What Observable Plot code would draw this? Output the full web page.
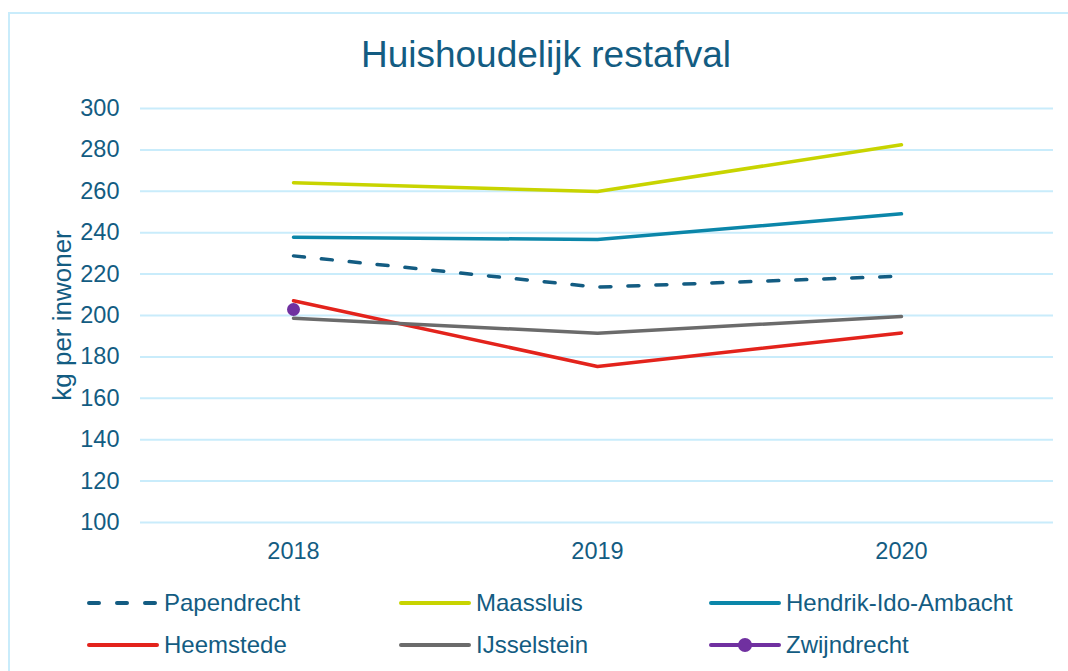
<!DOCTYPE html>
<html>
<head>
<meta charset="utf-8">
<script src="https://cdn.jsdelivr.net/npm/d3@7"></script>
<script src="https://cdn.jsdelivr.net/npm/@observablehq/plot@0.6"></script>
<style>
  html, body { margin: 0; padding: 0; background: #fff; }
  body { width: 1068px; height: 671px; overflow: hidden; position: relative; font-family: "Liberation Sans", Arial, sans-serif; color: #135c82; }
  #frame { position: absolute; left: 8px; top: 12px; width: 1100px; height: 700px; border-left: 2px solid #c9ecfb; border-top: 2px solid #c9ecfb; box-sizing: border-box; }
  #title { position: absolute; left: 0; top: 0; width: 1092px; height: 90px; text-align: center; font-size: 37px; line-height: 110px; color: #135c82; }
  #chart { position: absolute; left: 0; top: 90px; }
  #legend { position: absolute; left: 0; top: 0; }
  .item { position: absolute; display: flex; align-items: center; font-size: 24px; color: #135c82; white-space: nowrap; }
  .item svg { margin-right: 5px; }
</style>
</head>
<body>
<div id="frame"></div>
<div id="title">Huishoudelijk restafval</div>
<div id="chart"></div>
<div id="legend"></div>
<script>
const years = ["2018", "2019", "2020"];
const series = ["Papendrecht", "Maassluis", "Hendrik-Ido-Ambacht", "Heemstede", "IJsselstein", "Zwijndrecht"];
const colors = ["#135c82", "#c8d400", "#0b86a9", "#e3231c", "#6b6b6b", "#7030a0"];
const papendrecht = [228.8, 213.7, 219.0];
const maassluis = [264.1, 259.9, 282.5];
const hendrikIdoAmbacht = [237.8, 236.7, 249.1];
const heemstede = [207.1, 175.4, 191.6];
const ijsselstein = [198.7, 191.4, 199.5];
const zwijndrecht = [202.9, null, null];
const yTicks = [100, 120, 140, 160, 180, 200, 220, 240, 260, 280, 300];

const valuesBySeries = [papendrecht, maassluis, hendrikIdoAmbacht, heemstede, ijsselstein, zwijndrecht];
const data = [];
series.forEach((s, i) => {
  years.forEach((y, j) => {
    const v = valuesBySeries[i][j];
    if (v != null) data.push({series: s, year: y, value: v});
  });
});
const solidSeries = ["Maassluis", "Hendrik-Ido-Ambacht", "Heemstede", "IJsselstein"];

const chart = Plot.plot({
  width: 1068,
  height: 470,
  marginLeft: 140,
  marginRight: 15,
  marginTop: 18,
  marginBottom: 38,
  style: {fontFamily: "Liberation Sans, Arial, sans-serif", fontSize: "23.5px", color: "#135c82", background: "transparent", overflow: "visible"},
  x: {type: "point", domain: years, padding: 0.5, label: null},
  y: {domain: [100, 300], ticks: yTicks, label: "kg per inwoner"},
  color: {domain: series, range: colors},
  marks: [
    Plot.gridY(yTicks, {stroke: "#c9ecfb", strokeOpacity: 1, strokeWidth: 2}),
    Plot.axisX({tickSize: 0, tickPadding: 20, fill: "#135c82", label: null}),
    Plot.axisY({ticks: yTicks, tickSize: 0, tickPadding: 21, fill: "#135c82", label: "kg per inwoner", labelAnchor: "center", labelArrow: "none", labelOffset: 88}),
    Plot.line(data.filter(d => d.series === "Papendrecht"), {x: "year", y: "value", stroke: "series", strokeWidth: 3.5, strokeDasharray: "11,17", strokeLinecap: "round"}),
    Plot.line(data.filter(d => solidSeries.includes(d.series)), {x: "year", y: "value", z: "series", stroke: "series", strokeWidth: 3.5, strokeLinecap: "round"}),
    Plot.dot(data.filter(d => d.series === "Zwijndrecht"), {x: "year", y: "value", fill: "series", r: 6.5})
  ]
});
document.getElementById("chart").appendChild(chart);
chart.querySelectorAll("g[aria-label='y-axis label'] text").forEach(t => t.setAttribute("font-size", "26"));

// legend
const legend = document.getElementById("legend");
const colX = [87, 399, 709];
const rowY = [603, 645];
series.forEach((s, i) => {
  const col = i % 3, row = Math.floor(i / 3);
  const item = document.createElement("div");
  item.className = "item";
  item.style.left = colX[col] + "px";
  item.style.top = (rowY[row] - 15) + "px";
  item.style.height = "30px";
  const ns = "http://www.w3.org/2000/svg";
  const sw = document.createElementNS(ns, "svg");
  sw.setAttribute("width", 72);
  sw.setAttribute("height", 30);
  const ln = document.createElementNS(ns, "line");
  ln.setAttribute("x1", 2); ln.setAttribute("x2", 70);
  ln.setAttribute("y1", 15); ln.setAttribute("y2", 15);
  ln.setAttribute("stroke", colors[i]);
  ln.setAttribute("stroke-width", 4);
  ln.setAttribute("stroke-linecap", "round");
  if (s === "Papendrecht") ln.setAttribute("stroke-dasharray", "10,18");
  sw.appendChild(ln);
  if (s === "Zwijndrecht") {
    const c = document.createElementNS(ns, "circle");
    c.setAttribute("cx", 36); c.setAttribute("cy", 15); c.setAttribute("r", 7);
    c.setAttribute("fill", colors[i]);
    sw.appendChild(c);
  }
  item.appendChild(sw);
  const tx = document.createElement("span");
  tx.textContent = s;
  item.appendChild(tx);
  legend.appendChild(item);
});
</script>
</body>
</html>
